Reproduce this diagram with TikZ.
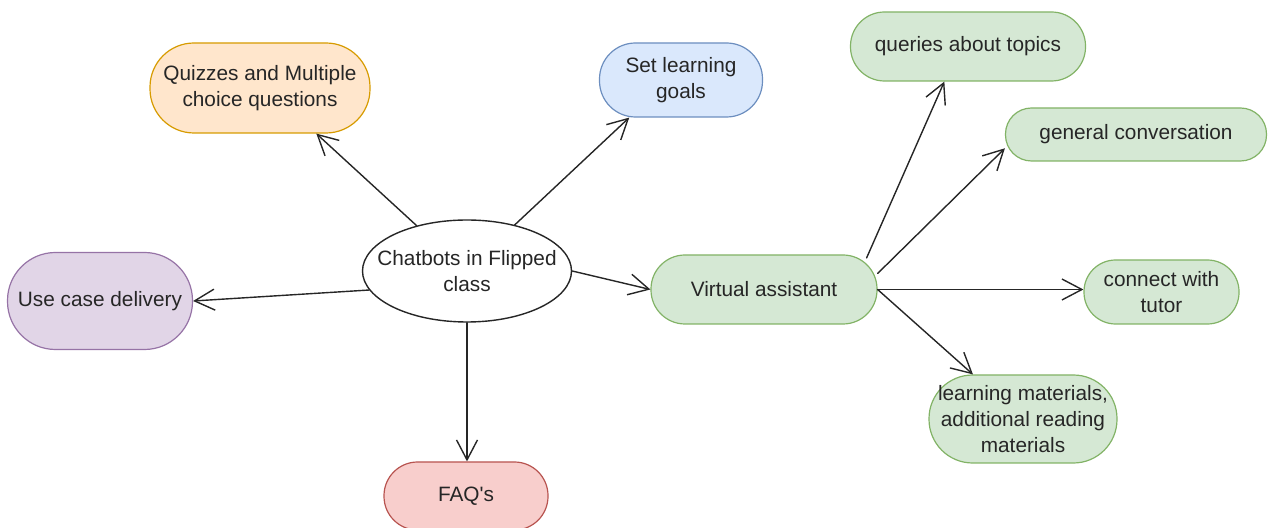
\documentclass[tikz,border=0pt]{standalone}
\usepackage{fontspec}
\setmainfont{Liberation Sans}
\usetikzlibrary{arrows.meta,shapes.geometric}
\definecolor{FigureText}{HTML}{262626}
\definecolor{OrangeFill}{HTML}{FFE6CC}\definecolor{OrangeLine}{HTML}{D79B00}
\definecolor{BlueFill}{HTML}{DAE8FC}\definecolor{BlueLine}{HTML}{6C8EBF}
\definecolor{PurpleFill}{HTML}{E1D5E7}\definecolor{PurpleLine}{HTML}{9673A6}
\definecolor{RedFill}{HTML}{F8CECC}\definecolor{RedLine}{HTML}{B85450}
\definecolor{GreenFill}{HTML}{D5E8D4}\definecolor{GreenLine}{HTML}{82B366}

\begin{document}
\begin{tikzpicture}[x=0.5pt,y=-0.5pt,line cap=round,line join=round,
  font=\fontsize{10.4}{12.8}\selectfont,
  pill/.style={rectangle,draw,line width=0.6pt,align=center,inner sep=0pt,text=FigureText},
  greenpill/.style={pill,fill=GreenFill,draw=GreenLine},
  link/.style={-{Straight Barb[length=10pt,width=10.5pt]},line width=0.7pt,draw=black!85}]
  \useasboundingbox (0,0) rectangle (1268,528);
  \node[ellipse,draw=black!85,line width=0.7pt,fill=white,align=center,text=FigureText,inner xsep=-10pt,inner ysep=0pt,minimum width=104.5pt,minimum height=51pt] (chat) at (467,271) {Chatbots in Flipped\\class};
  \node[pill,fill=OrangeFill,draw=OrangeLine,minimum width=110pt,minimum height=45pt,rounded corners=22pt] (quiz) at (260,88) {Quizzes and Multiple\\choice questions};
  \node[pill,fill=BlueFill,draw=BlueLine,minimum width=81.5pt,minimum height=37pt,rounded corners=18pt] (goals) at (681,80) {Set learning\\goals};
  \node[pill,fill=PurpleFill,draw=PurpleLine,minimum width=92.5pt,minimum height=48.5pt,rounded corners=24pt] (uc) at (100,301) {Use case delivery};
  \node[pill,fill=RedFill,draw=RedLine,minimum width=82pt,minimum height=34pt,rounded corners=16.8pt] (faq) at (466,496) {FAQ\textquotesingle s};
  \node[greenpill,minimum width=113pt,minimum height=34.5pt,rounded corners=17pt] (va) at (764,289.5) {Virtual assistant};
  \node[greenpill,minimum width=117.5pt,minimum height=34.5pt,rounded corners=17pt] (qt) at (968,46.5) {queries about topics};
  \node[greenpill,minimum width=130.5pt,minimum height=26.5pt,rounded corners=13pt] (gc) at (1136,134.5) {general conversation};
  \node[greenpill,minimum width=77.5pt,minimum height=32pt,rounded corners=15.8pt] (ct) at (1161.5,292) {connect with\\tutor};
  \node[greenpill,minimum width=94pt,minimum height=44pt,rounded corners=21.8pt] (lm) at (1023,419) {learning materials,\\additional reading\\materials};
  \draw[link] (chat.138) -- (quiz.-39);
  \draw[link] (chat.44) -- (goals.-144);
  \draw[link] (chat.191) -- (uc.east);
  \draw[link] (chat.south) -- (chat.south |- faq.north);
  \draw[link] (chat.east) -- (va.west);
  \draw[link] ([xshift=-5.5pt,yshift=-1.75pt]va.north east) -- (qt.-124);
  \draw[link] ([yshift=8pt]va.east) -- (gc.186);
  \draw[link] (va.east) -- (va.east -| ct.west);
  \draw[link] (va.east) -- (lm);
\end{tikzpicture}
\end{document}
